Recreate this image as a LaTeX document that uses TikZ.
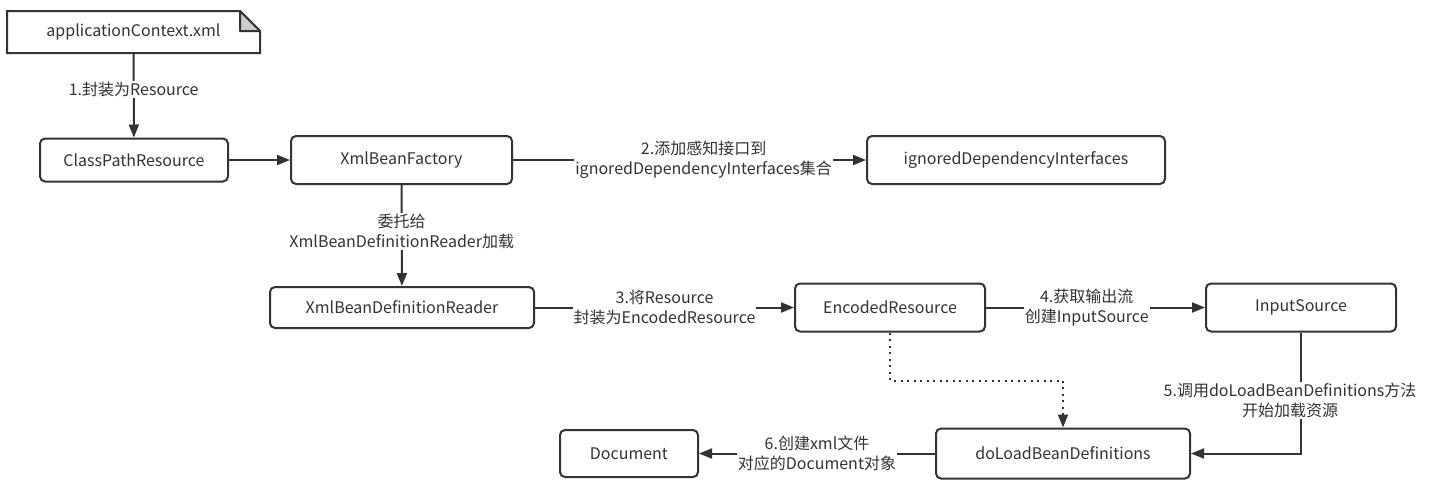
\documentclass[tikz,border=0pt]{standalone}
\usepackage{fontspec}
\setmainfont{Noto Sans CJK SC}
\usetikzlibrary{arrows.meta, positioning}
\definecolor{linegray}{HTML}{333333}
\definecolor{foldgray}{HTML}{CCCCCC}

\begin{document}
\begin{tikzpicture}[x=1pt,y=-1pt,->,>={Triangle[length=13pt,width=10pt]},line width=2pt,draw=linegray,
    font=\fontsize{16}{20}\selectfont]
    \tikzstyle{box}=[draw,rounded corners=5pt,fill=white,text=linegray,inner sep=0pt]
    \tikzstyle{lbl}=[fill=white,text=linegray,align=center,inner sep=1pt]
    \useasboundingbox (0,0) rectangle (1437,491);

    \node[minimum width=251pt,minimum height=40pt,text=linegray] (app) at (133.5,32) {applicationContext.xml};
    \draw[-,fill=white] (app.north west) -- ([xshift=-20pt]app.north east) -- ([yshift=-20pt]app.north east)
        -- (app.south east) -- (app.south west) -- cycle;
    \draw[-,fill=foldgray,line join=round] ([xshift=-20pt]app.north east) -- ([xshift=-20pt,yshift=-20pt]app.north east)
        -- ([yshift=-20pt]app.north east) -- cycle;
    \node[text=linegray] at (app) {applicationContext.xml};

    \node[box,minimum width=188pt,minimum height=43pt] (cpr) at (134,160) {ClassPathResource};
    \node[box,minimum width=221pt,minimum height=48pt] (xbf) at (401.5,160) {XmlBeanFactory};
    \node[box,minimum width=298pt,minimum height=48pt] (idi) at (1016,160) {ignoredDependencyInterfaces};
    \node[box,minimum width=264pt,minimum height=41pt] (xbdr) at (402,307.5) {XmlBeanDefinitionReader};
    \node[box,minimum width=190pt,minimum height=48pt] (enc) at (890,307.5) {EncodedResource};
    \node[box,minimum width=190pt,minimum height=48pt] (inp) at (1301,307.5) {InputSource};
    \node[box,minimum width=254pt,minimum height=50pt] (dlbd) at (1063,453.5) {doLoadBeanDefinitions};
    \node[box,minimum width=138pt,minimum height=47pt] (doc) at (629,453.5) {Document};

    \draw (app) -- node[lbl,pos=0.43] {1.封装为Resource} (cpr);
    \draw (cpr) -- (xbf);
    \draw (xbf) -- node[lbl,pos=0.54] {2.添加感知接口到\\ignoredDependencyInterfaces集合} (idi);
    \draw (xbf) -- node[lbl,pos=0.46] {委托给\\XmlBeanDefinitionReader加载} (xbdr);
    \draw (xbdr) -- node[lbl] {3.将Resource\\封装为EncodedResource} (enc);
    \draw (enc) -- node[lbl,pos=0.46] {4.获取输出流\\创建InputSource} (inp);
    \draw (inp.south) |- node[lbl,pos=0.28,xshift=-11pt] {5.调用doLoadBeanDefinitions方法\\开始加载资源} (dlbd.east);
    \draw[dash pattern=on 2pt off 4.5pt] (enc.south) -- ++(0,48) -| (dlbd.north);
    \draw (dlbd) -- node[lbl] {6.创建xml文件\\对应的Document对象} (doc);
\end{tikzpicture}
\end{document}
